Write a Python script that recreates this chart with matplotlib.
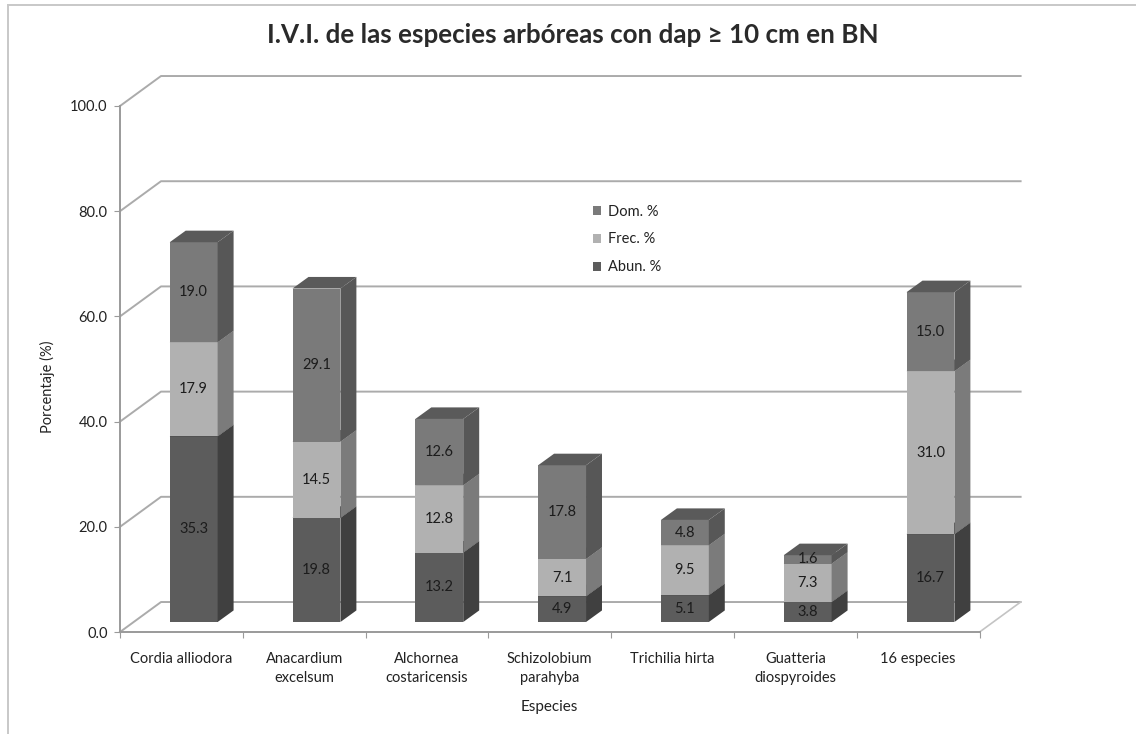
import matplotlib
matplotlib.use('Agg')
import matplotlib.pyplot as plt
from matplotlib.lines import Line2D
from matplotlib.patches import Polygon

species = ['Cordia alliodora', 'Anacardium\nexcelsum', 'Alchornea\ncostaricensis',
           'Schizolobium\nparahyba', 'Trichilia hirta', 'Guatteria\ndiospyroides', '16 especies']
abun = [35.3, 19.8, 13.2, 4.9, 5.1, 3.8, 16.7]
frec = [17.9, 14.5, 12.8, 7.1, 9.5, 7.3, 31.0]
dom = [19.0, 29.1, 12.6, 17.8, 4.8, 1.6, 15.0]
yticks = [0, 20, 40, 60, 80, 100]

# fake 3D offsets, in data units
FLOOR = 1.9
BAR_SHIFT = 0.1
BAR_W = 0.39
DEPTH_X, DEPTH_Y = 0.13, 2.2
WALL_X, WALL_Y = 0.334, 5.7
FS = 10.5

W, H = 1136, 734
fig = plt.figure(figsize=(W / 100, H / 100), dpi=100)
ax = fig.add_axes([120 / W, 1 - 632 / H, 859.6 / W, 526 / H])
plt.rcParams['font.family'] = 'Lato'

x = list(range(len(species)))
ax.set_xlim(-0.5, 6.5)
ax.set_ylim(0, 100)

# back wall grid
grid_c = '#ababab'
for y in yticks:
    ax.plot([-0.5, -0.5 + WALL_X, 6.5 + WALL_X], [y, y + WALL_Y, y + WALL_Y],
            color=grid_c, lw=1.4, clip_on=False, zorder=1)
ax.plot([6.5, 6.5 + WALL_X], [0, WALL_Y], color='#c4c4c4', lw=1.2, clip_on=False, zorder=1)

series = [('Abun. %', abun, '#5c5c5c', '#404040', '#404040'),
          ('Frec. %', frec, '#b1b1b1', '#7b7b7b', '#7b7b7b'),
          ('Dom. %', dom, '#7a7a7a', '#575757', '#5a5a5a')]

bottom = [FLOOR] * len(x)
handles = []
for name, vals, front, side, top in series:
    xs = [i + BAR_SHIFT for i in x]
    bars = ax.bar(xs, vals, BAR_W, bottom=bottom, color=front, label=name, zorder=3)
    handles.append(bars)
    for xc, b, v in zip(xs, bottom, vals):
        r = xc + BAR_W / 2
        l = xc - BAR_W / 2
        ax.add_patch(Polygon([(r, b), (r + DEPTH_X, b + DEPTH_Y), (r + DEPTH_X, b + v + DEPTH_Y), (r, b + v)],
                             closed=True, fc=side, ec='none', zorder=3))
        ax.add_patch(Polygon([(l, b + v), (l + DEPTH_X, b + v + DEPTH_Y), (r + DEPTH_X, b + v + DEPTH_Y), (r, b + v)],
                             closed=True, fc=top, ec='none', zorder=3))
        ax.text(xc, b + v / 2, '%.1f' % v, ha='center', va='center', fontsize=FS,
                family='Lato', color='#1c1c1c', zorder=4)
    bottom = [b + v for b, v in zip(bottom, vals)]

ax.spines['top'].set_visible(False)
ax.spines['right'].set_visible(False)
for s in ['left', 'bottom']:
    ax.spines[s].set_color('#9a9a9a')
    ax.spines[s].set_linewidth(1.4)

ax.set_yticks(yticks)
ax.set_yticklabels(['%.1f' % y for y in yticks], family='Lato', fontsize=FS, color='#222222')
ax.tick_params(axis='y', length=4, color='#9a9a9a', pad=5)

# ticks sit between the categories, labels under the centres
ax.set_xticks([i + 0.5 for i in range(-1, 7)])
ax.set_xticklabels([])
ax.tick_params(axis='x', length=4, color='#9a9a9a')
for i, name in zip(x, species):
    ax.annotate(name, (i, 0), xytext=(0, -14.5), textcoords='offset points', ha='center', va='top',
                fontsize=FS, family='Lato', color='#222222', linespacing=1.4, annotation_clip=False)

fig.text(549 / W, 1 - 707 / H, 'Especies', ha='center', va='center', fontsize=FS + 0.5, family='Lato', color='#222222')
fig.text(47 / W, 1 - 387 / H, 'Porcentaje (%)', ha='center', va='center', rotation=90,
         fontsize=FS, family='Lato', color='#222222')
fig.text(573 / W, 1 - 35 / H, 'I.V.I. de las especies arbóreas con dap ≥ 10 cm en BN', ha='center', va='center',
         fontsize=18.7, family=['Lato', 'DejaVu Sans'], fontweight='bold', color='#2a2a2a')

leg = ax.legend(handles[::-1], [h.get_label() for h in handles[::-1]], loc='center',
                bbox_to_anchor=((627 - 120) / 859.6, (632 - 239.5) / 526), frameon=False,
                handlelength=0.55, handleheight=0.55, handletextpad=0.45, labelspacing=0.95,
                prop={'family': 'Lato', 'size': FS})
for t in leg.get_texts():
    t.set_color('#222222')

# outer chart frame
fig.add_artist(Line2D([8 / W, 8 / W], [0, 1 - 5 / H], color='#c8c8c8', lw=1.4))
fig.add_artist(Line2D([8 / W, 1], [1 - 5 / H, 1 - 5 / H], color='#c8c8c8', lw=1.4))

fig.savefig('out.png', dpi=100)
